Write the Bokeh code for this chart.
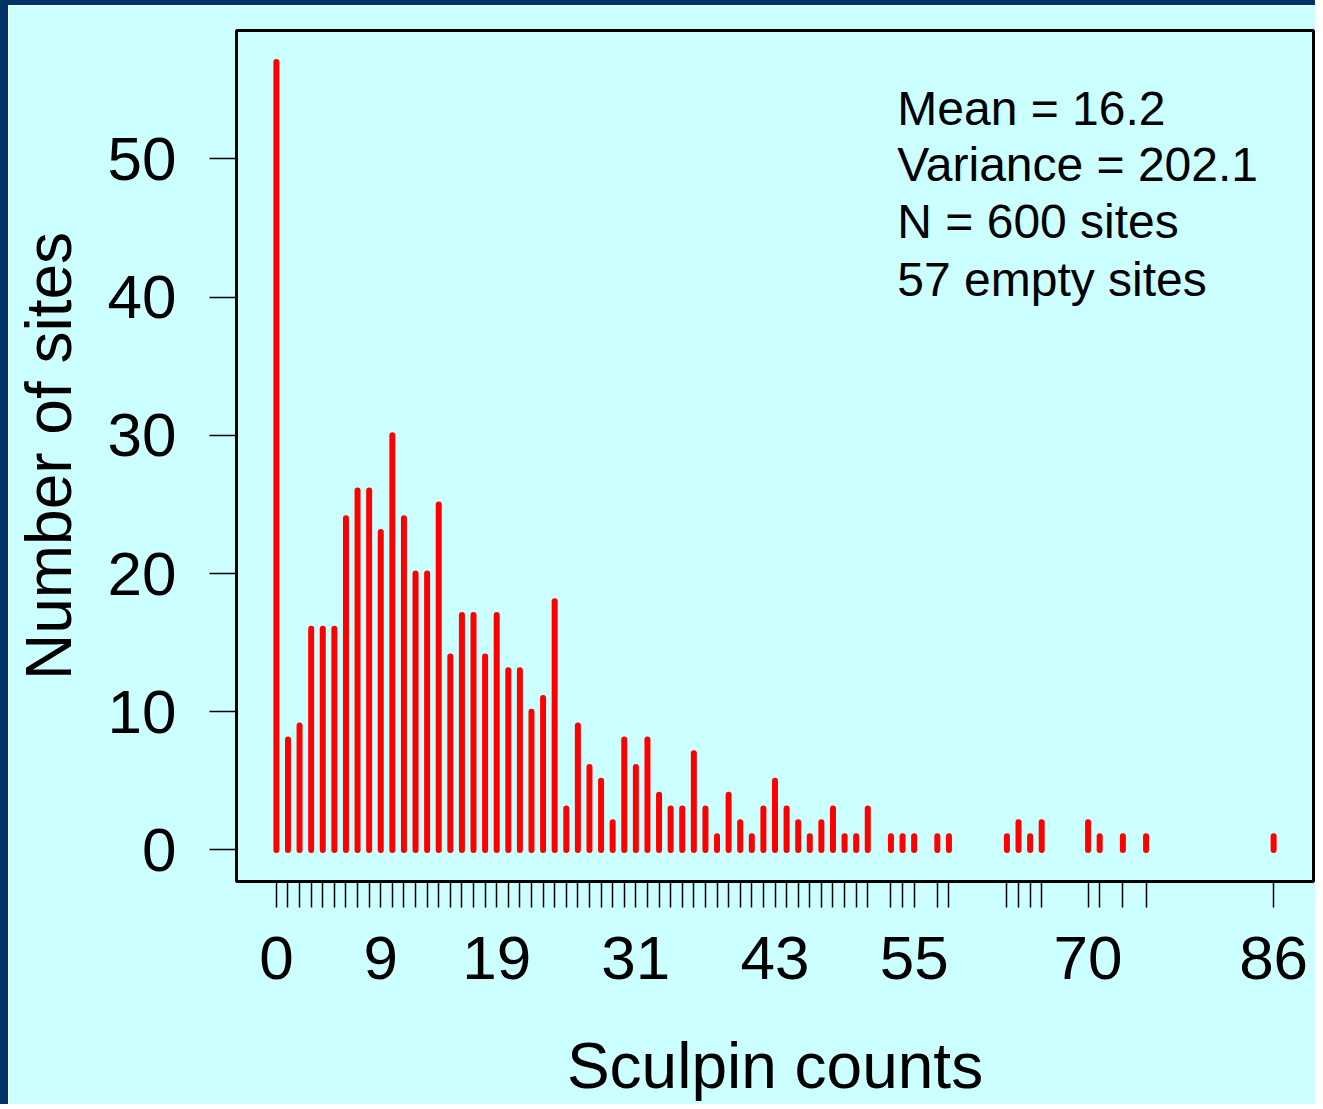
from bokeh.plotting import figure
from bokeh.models import FixedTicker, Label, Range1d
from bokeh.embed import file_html
from bokeh.resources import INLINE

# ---- data ----
counts = list(range(0, 52)) + [53, 54, 55, 57, 58, 63, 64, 65, 66, 70, 71, 73, 75, 86]
sites = [57, 8, 9, 16, 16, 16, 24, 26, 26, 23,
         30, 24, 20, 20, 25, 14, 17, 17, 14, 17,
         13, 13, 10, 11, 18, 3, 9, 6, 5, 2,
         8, 6, 8, 4, 3, 3, 7, 3, 1, 4,
         2, 1, 3, 5, 3, 2, 1, 2, 3, 1,
         1, 3,
         1, 1, 1, 1, 1, 1, 2, 1, 2, 2, 1, 1, 1, 1]
x_labeled = [0, 9, 19, 31, 43, 55, 70, 86]
y_ticks = [0, 10, 20, 30, 40, 50]
stats_lines = ["Mean = 16.2", "Variance = 202.1", "N = 600 sites", "57 empty sites"]

FONT = "Liberation Sans"
BG = "#CCFFFF"

# R-style 4% padding of the axis ranges
xmin, xmax = min(counts), max(counts)
xpad = 0.04 * (xmax - xmin)
ymax = max(sites)
ypad = 0.04 * ymax

p = figure(width=1315, height=1104,
           x_range=Range1d(xmin - xpad, xmax + xpad),
           y_range=Range1d(-ypad, ymax + ypad),
           output_backend="svg", toolbar_location=None,
           min_border_left=228, min_border_right=10,
           min_border_top=25, min_border_bottom=228,
           background_fill_color=BG, border_fill_color=BG)
p.styles = {"border-left": "8px solid #003366", "border-top": "5px solid #003366"}

p.outline_line_color = "black"
p.outline_line_width = 3
p.xgrid.grid_line_color = None
p.ygrid.grid_line_color = None

p.segment(x0=counts, y0=[0] * len(counts), x1=counts, y1=sites,
          line_color="#FF0000", line_width=6, line_cap="round")

# axes
p.xaxis.ticker = FixedTicker(ticks=counts)
p.xaxis.major_label_overrides = {c: "" for c in counts if c not in x_labeled}
p.yaxis.ticker = FixedTicker(ticks=y_ticks)

for ax in (p.xaxis, p.yaxis):
    ax.axis_line_color = None
    ax.major_tick_in = 0
    ax.major_tick_line_color = "black"
    ax.major_tick_line_width = 1.5
    ax.minor_tick_line_color = None
    ax.major_label_text_font = FONT
    ax.major_label_text_font_size = "62px"
    ax.major_label_text_color = "black"
    ax.axis_label_text_font = FONT
    ax.axis_label_text_font_size = "64px"
    ax.axis_label_text_font_style = "normal"
    ax.axis_label_text_color = "black"

p.xaxis.major_tick_out = 26
p.yaxis.major_tick_out = 27
p.xaxis.major_label_standoff = 29
p.yaxis.major_label_standoff = 33
p.xaxis.axis_label = "Sculpin counts"
p.yaxis.axis_label = "Number of sites"
p.xaxis.axis_label_standoff = 48
p.yaxis.axis_label_standoff = 20

# statistics text block (top right)
line_y = [53.67, 49.57, 45.49, 41.27]
for txt, yy in zip(stats_lines, line_y):
    p.add_layout(Label(x=53.55, y=yy, text=txt, text_font=FONT,
                       text_font_size="48px", text_color="black",
                       text_align="left", text_baseline="alphabetic"))

open("out.html", "w").write(file_html(p, INLINE))
